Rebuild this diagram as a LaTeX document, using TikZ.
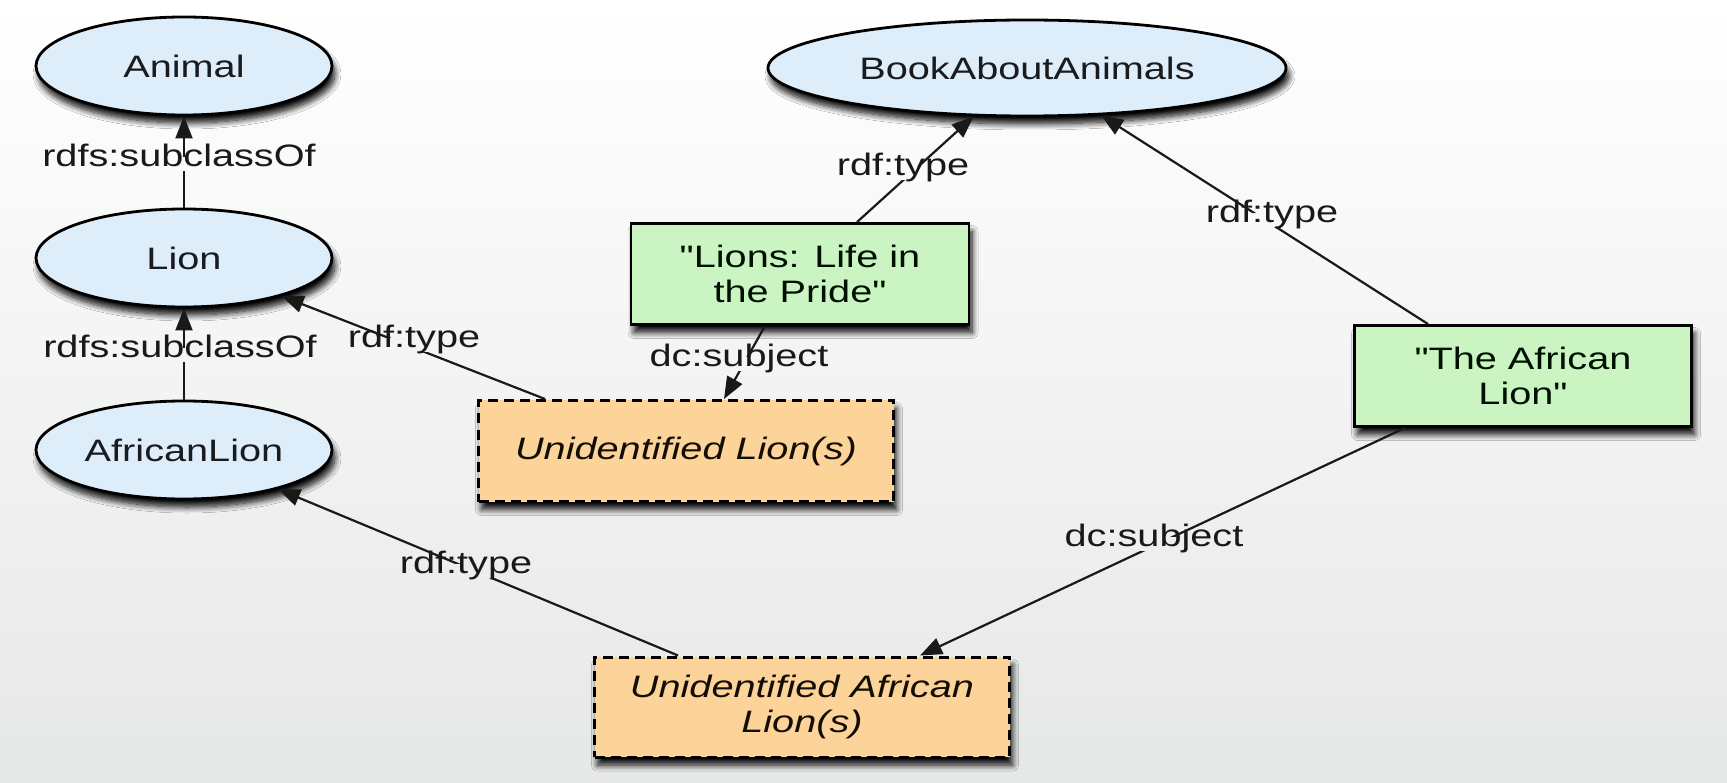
\documentclass[tikz,border=0pt]{standalone}
\usepackage{fontspec}
\setmainfont{Liberation Sans}[FakeStretch=1.28, Ligatures=TeXOff]
\usetikzlibrary{arrows.meta,shapes.geometric,shadows.blur,calc}

\definecolor{classfill}{RGB}{222,237,250}
\definecolor{litfill}{RGB}{202,245,194}
\definecolor{blankfill}{RGB}{252,211,152}
\definecolor{bgbot}{RGB}{230,231,231}
\definecolor{inktext}{RGB}{25,27,30}

\tikzset{
  nodeshadow/.style={blur shadow={shadow xshift=3pt, shadow yshift=-8pt,
      shadow blur radius=6pt, shadow blur steps=10, shadow opacity=95}},
  classnode/.style={ellipse, draw=black, line width=2.8pt, fill=classfill,
      inner sep=0pt, minimum width=296pt, minimum height=98pt,
      text=inktext, nodeshadow},
  litnode/.style={rectangle, draw=black, line width=2.8pt, fill=litfill,
      inner sep=0pt, minimum height=101pt, align=center,
      text=black!90!green!60!black, nodeshadow},
  blanknode/.style={rectangle, draw=black, line width=3pt,
      dash pattern=on 10pt off 6pt, fill=blankfill,
      inner sep=0pt, minimum height=101pt, align=center,
      text=black!90!brown, font=\fontsize{31}{35}\selectfont\itshape, nodeshadow},
  edge/.style={draw=black!90, line width=2.2pt,
      -{Triangle[length=22pt,width=17pt]}},
  lbl/.style={inner sep=2pt, text height=0.72em, text depth=0.2em,
      text=black!90}
}

\begin{document}
\begin{tikzpicture}[x=1pt, y=-1pt, font=\fontsize{31}{35}\selectfont]
  % canvas with soft vertical gradient
  \shade[top color=white, bottom color=bgbot] (0,0) rectangle (1727,783);
  \useasboundingbox (0,0) rectangle (1727,783);

  % class hierarchy
  \node[classnode] (animal) at (184,66) {Animal};
  \node[classnode] (lion) at (184,258) {Lion};
  \node[classnode] (alion) at (184,450) {AfricanLion};
  \node[classnode, minimum width=518pt, minimum height=96pt] (book) at (1027,68) {BookAboutAnimals};

  % literal titles
  \node[litnode, minimum width=338pt] (lions) at (800,274) {"Lions: Life in\\the Pride"};
  \node[litnode, minimum width=337pt] (tal) at (1523,376) {"The African\\Lion"};

  % blank nodes
  \node[blanknode, minimum width=415pt] (ul) at (686,451) {Unidentified Lion(s)};
  \node[blanknode, minimum width=415pt, minimum height=100pt] (ual) at (802,707) {Unidentified African\\Lion(s)};

  % connectors
  \draw[edge] (lion.north) -- (animal.south);
  \draw[edge] (alion.north) -- (lion.south);
  \draw[edge] ($(ul.north west)+(68,0)$) -- (lion);
  \draw[edge] ($(lions.north)+(57,0)$) -- (book);
  \draw[edge] ($(tal.north west)+(75,0)$) -- (book);
  \draw[edge] ($(lions.south)+(-35,0)$) -- ($(ul.north)+(38,0)$);
  \draw[edge] ($(tal.south west)+(52,0)$) -- ($(ual.north)+(118,0)$);
  \draw[edge] ($(ual.north west)+(85,0)$) -- (alion);

  % connector labels
  \node[lbl, fill=bgbot!21!white] (sub1) at (179,164) {rdfs:subclassOf};
  \node[lbl, fill=bgbot!45!white] (sub2) at (180,355) {rdfs:subclassOf};
  \node[lbl, fill=bgbot!44!white] (type1) at (414,345) {rdf:type};
  \node[lbl, fill=bgbot!22!white] (type2) at (903,173) {rdf:type};
  \node[lbl, fill=bgbot!28!white] (type3) at (1272,220) {rdf:type};
  \node[lbl, fill=bgbot!46!white] (subj1) at (739,364) {dc:subject};
  \node[lbl, fill=bgbot!69!white] (subj2) at (1154,544) {dc:subject};
  \node[lbl, fill=bgbot!73!white] (type4) at (466,571) {rdf:type};
\end{tikzpicture}
\end{document}
